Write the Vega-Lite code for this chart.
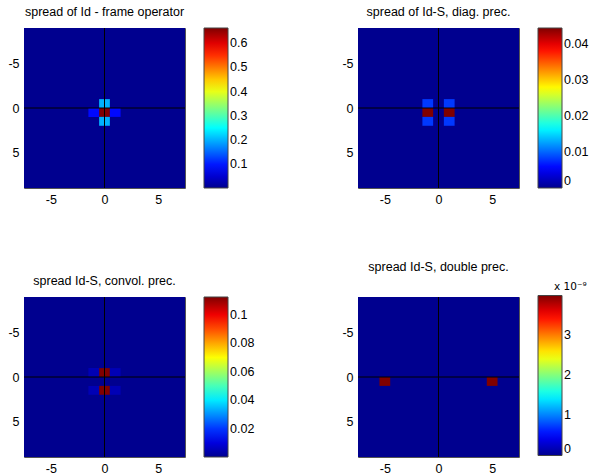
{
  "$schema": "https://vega.github.io/schema/vega-lite/v6.json",
  "padding": {"left": 7, "top": 5, "right": 0, "bottom": 0},
  "background": "white",
  "datasets": {
    "A": [
      {"x0": -7.5, "x1": 7.5, "y0": -9, "y1": 9, "v": 0.002},
      {"x0": -0.5, "x1": 0.5, "y0": 0, "y1": 1, "v": 0.6625},
      {"x0": -0.5, "x1": 0.5, "y0": -1, "y1": 0, "v": 0.2},
      {"x0": -0.5, "x1": 0.5, "y0": 1, "y1": 2, "v": 0.2},
      {"x0": -1.5, "x1": -0.5, "y0": 0, "y1": 1, "v": 0.09},
      {"x0": 0.5, "x1": 1.5, "y0": 0, "y1": 1, "v": 0.09}
    ],
    "B": [
      {"x0": -7.5, "x1": 7.5, "y0": -9, "y1": 9, "v": 0},
      {"x0": -1.5, "x1": -0.5, "y0": 0, "y1": 1, "v": 0.0444},
      {"x0": 0.5, "x1": 1.5, "y0": 0, "y1": 1, "v": 0.0444},
      {"x0": -1.5, "x1": -0.5, "y0": -1, "y1": 0, "v": 0.008},
      {"x0": 0.5, "x1": 1.5, "y0": -1, "y1": 0, "v": 0.008},
      {"x0": -1.5, "x1": -0.5, "y0": 1, "y1": 2, "v": 0.008},
      {"x0": 0.5, "x1": 1.5, "y0": 1, "y1": 2, "v": 0.008}
    ],
    "C": [
      {"x0": -7.5, "x1": 7.5, "y0": -9, "y1": 9, "v": 0.0002},
      {"x0": -0.5, "x1": 0.5, "y0": -1, "y1": 0, "v": 0.1124},
      {"x0": -0.5, "x1": 0.5, "y0": 1, "y1": 2, "v": 0.1124},
      {"x0": -1.5, "x1": -0.5, "y0": -1, "y1": 0, "v": 0.005},
      {"x0": 0.5, "x1": 1.5, "y0": -1, "y1": 0, "v": 0.005},
      {"x0": -1.5, "x1": -0.5, "y0": 1, "y1": 2, "v": 0.005},
      {"x0": 0.5, "x1": 1.5, "y0": 1, "y1": 2, "v": 0.005}
    ],
    "D": [
      {"x0": -7.5, "x1": 7.5, "y0": -9, "y1": 9, "v": 0},
      {"x0": -5.5, "x1": -4.5, "y0": 0, "y1": 1, "v": 3.98e-9},
      {"x0": 4.5, "x1": 5.5, "y0": 0, "y1": 1, "v": 3.98e-9}
    ]
  },
  "columns": 2,
  "spacing": {"row": 109, "column": 173},
  "bounds": "flush",
  "resolve": {
    "scale": {"color": "independent", "x": "independent", "y": "independent"},
    "legend": {"color": "independent"}
  },
  "concat": [
    {
      "title": "spread of Id - frame operator",
      "width": 161, "height": 160,
      "layer": [
        {
          "data": {"name": "A"},
          "mark": {"type": "rect"},
          "encoding": {
            "x": {"field": "x0", "type": "quantitative", "scale": {"domain": [-7.5, 7.5], "nice": false, "zero": false}, "axis": {"values": [-5, 0, 5], "labelExpr": "'' + datum.value"}},
            "x2": {"field": "x1"},
            "y": {"field": "y0", "type": "quantitative", "scale": {"domain": [-9, 9], "nice": false, "zero": false, "reverse": true}, "axis": {"values": [-5, 0, 5], "labelExpr": "'' + datum.value"}},
            "y2": {"field": "y1"},
            "color": {"field": "v", "type": "quantitative",
              "scale": {"domain": [0.002, 0.08456, 0.24969, 0.41481, 0.57994, 0.6625], "range": ["#00008f", "#0000ff", "#00ffff", "#ffff00", "#ff0000", "#800000"], "interpolate": "rgb", "zero": false, "nice": false, "clamp": true},
              "legend": {"title": null, "values": [0.1, 0.2, 0.3, 0.4, 0.5, 0.6], "format": "~g"}}
          }
        },
        {"data": {"values": [{}]}, "mark": {"type": "rule", "color": "black", "strokeWidth": 1}, "encoding": {"x": {"datum": 0}}},
        {"data": {"values": [{}]}, "mark": {"type": "rule", "color": "black", "strokeWidth": 1}, "encoding": {"y": {"datum": 0}}}
      ]
    },
    {
      "title": "spread of Id-S, diag. prec.",
      "width": 161, "height": 160,
      "layer": [
        {
          "data": {"name": "B"},
          "mark": {"type": "rect"},
          "encoding": {
            "x": {"field": "x0", "type": "quantitative", "scale": {"domain": [-7.5, 7.5], "nice": false, "zero": false}, "axis": {"values": [-5, 0, 5], "labelExpr": "'' + datum.value"}},
            "x2": {"field": "x1"},
            "y": {"field": "y0", "type": "quantitative", "scale": {"domain": [-9, 9], "nice": false, "zero": false, "reverse": true}, "axis": {"values": [-5, 0, 5], "labelExpr": "'' + datum.value"}},
            "y2": {"field": "y1"},
            "color": {"field": "v", "type": "quantitative",
              "scale": {"domain": [0, 0.00555, 0.01665, 0.02775, 0.03885, 0.0444], "range": ["#00008f", "#0000ff", "#00ffff", "#ffff00", "#ff0000", "#800000"], "interpolate": "rgb", "zero": false, "nice": false, "clamp": true},
              "legend": {"title": null, "values": [0, 0.01, 0.02, 0.03, 0.04], "format": "~g"}}
          }
        },
        {"data": {"values": [{}]}, "mark": {"type": "rule", "color": "black", "strokeWidth": 1}, "encoding": {"x": {"datum": 0}}},
        {"data": {"values": [{}]}, "mark": {"type": "rule", "color": "black", "strokeWidth": 1}, "encoding": {"y": {"datum": 0}}}
      ]
    },
    {
      "title": "spread Id-S, convol. prec.",
      "width": 161, "height": 160,
      "layer": [
        {
          "data": {"name": "C"},
          "mark": {"type": "rect"},
          "encoding": {
            "x": {"field": "x0", "type": "quantitative", "scale": {"domain": [-7.5, 7.5], "nice": false, "zero": false}, "axis": {"values": [-5, 0, 5], "labelExpr": "'' + datum.value"}},
            "x2": {"field": "x1"},
            "y": {"field": "y0", "type": "quantitative", "scale": {"domain": [-9, 9], "nice": false, "zero": false, "reverse": true}, "axis": {"values": [-5, 0, 5], "labelExpr": "'' + datum.value"}},
            "y2": {"field": "y1"},
            "color": {"field": "v", "type": "quantitative",
              "scale": {"domain": [0.0002, 0.014225, 0.042275, 0.070325, 0.098375, 0.1124], "range": ["#00008f", "#0000ff", "#00ffff", "#ffff00", "#ff0000", "#800000"], "interpolate": "rgb", "zero": false, "nice": false, "clamp": true},
              "legend": {"title": null, "values": [0.02, 0.04, 0.06, 0.08, 0.1], "format": "~g"}}
          }
        },
        {"data": {"values": [{}]}, "mark": {"type": "rule", "color": "black", "strokeWidth": 1}, "encoding": {"x": {"datum": 0}}},
        {"data": {"values": [{}]}, "mark": {"type": "rule", "color": "black", "strokeWidth": 1}, "encoding": {"y": {"datum": 0}}}
      ]
    },
    {
      "title": "spread Id-S, double prec.",
      "width": 161, "height": 160,
      "layer": [
        {
          "data": {"name": "D"},
          "mark": {"type": "rect"},
          "encoding": {
            "x": {"field": "x0", "type": "quantitative", "scale": {"domain": [-7.5, 7.5], "nice": false, "zero": false}, "axis": {"values": [-5, 0, 5], "labelExpr": "'' + datum.value"}},
            "x2": {"field": "x1"},
            "y": {"field": "y0", "type": "quantitative", "scale": {"domain": [-9, 9], "nice": false, "zero": false, "reverse": true}, "axis": {"values": [-5, 0, 5], "labelExpr": "'' + datum.value"}},
            "y2": {"field": "y1"},
            "color": {"field": "v", "type": "quantitative",
              "scale": {"domain": [0, 4.975e-10, 1.4925e-9, 2.4875e-9, 3.4825e-9, 3.98e-9], "range": ["#00008f", "#0000ff", "#00ffff", "#ffff00", "#ff0000", "#800000"], "interpolate": "rgb", "zero": false, "nice": false, "clamp": true},
              "legend": {"title": "x 10⁻⁹", "orient": "none", "legendX": 180, "legendY": -15, "titleAnchor": "middle", "titleAlign": "left", "titleFont": "DejaVu Sans", "titleFontSize": 10.5, "titlePadding": 3, "values": [0, 1e-9, 2e-9, 3e-9], "labelExpr": "format(datum.value*1e9, '.0f')"}}
          }
        },
        {"data": {"values": [{}]}, "mark": {"type": "rule", "color": "black", "strokeWidth": 1}, "encoding": {"x": {"datum": 0}}},
        {"data": {"values": [{}]}, "mark": {"type": "rule", "color": "black", "strokeWidth": 1}, "encoding": {"y": {"datum": 0}}}
      ]
    }
  ],
  "config": {
    "font": "Liberation Sans",
    "view": {"stroke": "#555", "strokeWidth": 1},
    "title": {"fontSize": 12.5, "fontWeight": "normal", "color": "black", "offset": 9, "anchor": "middle"},
    "axis": {"grid": false, "ticks": false, "domain": false, "title": null, "labelFontSize": 12.5, "labelColor": "black", "labelPadding": 5},
    "legend": {"gradientLength": 160, "gradientThickness": 24, "gradientStrokeColor": "#444", "gradientStrokeWidth": 1, "labelFontSize": 12.5, "labelColor": "black", "labelOffset": 4, "labelBaseline": "middle", "labelOverlap": false, "offset": 19, "padding": 0, "direction": "vertical", "titleFontSize": 12, "titleFontWeight": "normal", "titleColor": "black"}
  }
}
